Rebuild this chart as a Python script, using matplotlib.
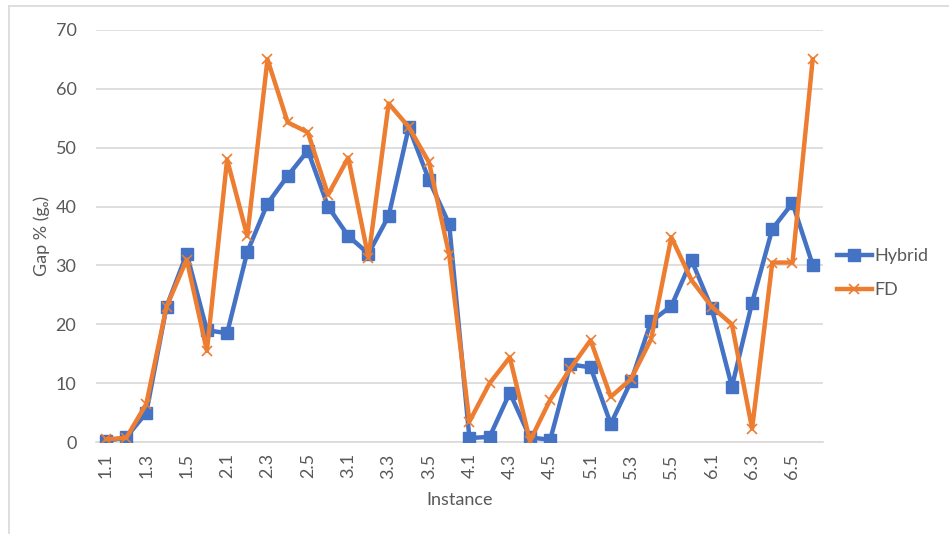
import matplotlib
matplotlib.use("Agg")
import matplotlib.pyplot as plt
from matplotlib.lines import Line2D

plt.rcParams['font.family'] = ['Lato', 'DejaVu Sans']

# instance ids 1.1 .. 6.6
instances = [f"{g}.{k}" for g in range(1, 7) for k in range(1, 7)]

hybrid = [0.2, 0.8, 5.0, 23.0, 32.0, 19.0,
          18.5, 32.3, 40.5, 45.2, 49.5, 40.0,
          35.0, 32.0, 38.4, 53.5, 44.5, 37.0,
          0.7, 0.9, 8.4, 0.8, 0.4, 13.2,
          12.7, 3.1, 10.3, 20.5, 23.1, 30.9,
          22.7, 9.4, 23.7, 36.2, 40.6, 30.1]

fd = [0.5, 0.7, 6.5, 23.0, 31.0, 15.5,
      48.0, 35.0, 65.0, 54.3, 52.6, 42.0,
      48.3, 31.3, 57.5, 53.5, 47.5, 31.8,
      3.5, 10.0, 14.4, 0.2, 7.2, 12.5,
      17.3, 7.7, 10.7, 17.5, 34.8, 27.5,
      23.0, 20.0, 2.3, 30.5, 30.5, 65.0]

yticks = [0, 10, 20, 30, 40, 50, 60, 70]

BLUE = '#4472C4'
ORANGE = '#ED7D31'
GRAY = '#595959'

fig = plt.figure(figsize=(9.49, 5.34), dpi=100)
ax = fig.add_axes([0.101, 0.172, 0.766, 0.772])

x = list(range(len(instances)))
ax.plot(x, hybrid, color=BLUE, lw=3.2, marker='s', ms=8,
        markeredgecolor=BLUE, label='Hybrid', zorder=3)
ax.plot(x, fd, color=ORANGE, lw=3.2, marker='x', ms=7, mew=1.2,
        label='FD', zorder=4)

ax.set_xlim(-0.5, len(instances) - 0.5)
ax.set_ylim(0, 70)
ax.set_yticks(yticks)
ax.yaxis.grid(True, color='#d9d9d9', lw=1.2)
ax.set_axisbelow(True)

ax.set_xticks(x[::2])
ax.set_xticklabels(instances[::2], rotation=90)
ax.tick_params(axis='both', length=0, labelsize=13, colors=GRAY)
ax.tick_params(axis='x', pad=8)
ax.tick_params(axis='y', pad=14)

for side in ['top', 'right', 'left']:
    ax.spines[side].set_visible(False)
ax.spines['bottom'].set_color('#d9d9d9')
ax.spines['bottom'].set_linewidth(1.2)

ax.set_xlabel('Instance', fontsize=13, color=GRAY, labelpad=10)
ax.set_ylabel('Gap % (gₒ)', fontsize=13, color=GRAY, labelpad=4)

handles = [Line2D([], [], color=BLUE, lw=3.2, marker='s', ms=8),
           Line2D([], [], color=ORANGE, lw=3.2, marker='x', ms=7, mew=1.2)]
ax.legend(handles, ['Hybrid', 'FD'], loc='center left',
          bbox_to_anchor=(1.01, 0.41), frameon=False, fontsize=13,
          labelcolor=GRAY, handlelength=1.9, handletextpad=0.15,
          borderpad=0.2, borderaxespad=0.2, labelspacing=1.0)

# light frame around the chart area
fig.add_artist(Line2D([0.0095, 0.0095], [0.0, 0.989], color='#d9d9d9', lw=1.2,
                      transform=fig.transFigure))
fig.add_artist(Line2D([0.0095, 1.0], [0.989, 0.989], color='#d9d9d9', lw=1.2,
                      transform=fig.transFigure))

fig.savefig('out.png', dpi=100, facecolor='white')
